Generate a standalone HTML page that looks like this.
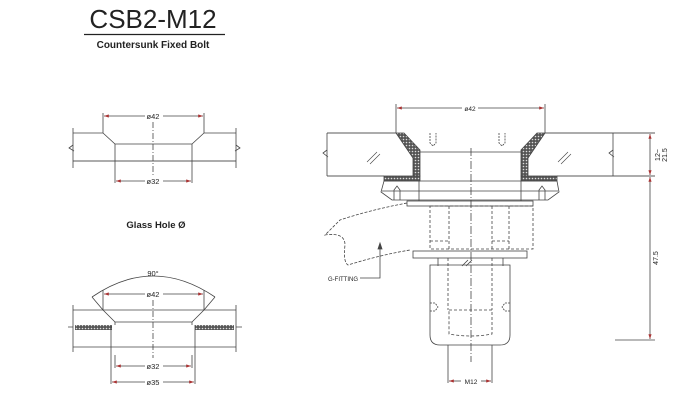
<!DOCTYPE html>
<html><head><meta charset="utf-8"><style>
html,body{margin:0;padding:0;background:#fff}
svg{display:block}
text{font-family:"Liberation Sans",sans-serif;fill:#222}
</style></head><body>
<svg width="700" height="400" viewBox="0 0 700 400" xmlns="http://www.w3.org/2000/svg">
<defs>
<pattern id="hat" width="3" height="3" patternUnits="userSpaceOnUse"><rect width="3" height="3" fill="#555"/><circle cx="1.5" cy="1.5" r="0.8" fill="#ddd"/></pattern>
<marker id="ar" markerWidth="6" markerHeight="4" refX="6" refY="2" orient="auto-start-reverse"><path d="M0,0 L6,2 L0,4z" fill="#a33"/></marker>
</defs>
<!-- Title -->
<text x="153" y="28" font-size="26" text-anchor="middle">CSB2-M12</text>
<line x1="84" y1="34.5" x2="225" y2="34.5" stroke="#222" stroke-width="1.2"/>
<text x="153" y="48" font-size="10" font-weight="bold" text-anchor="middle">Countersunk Fixed Bolt</text>

<g stroke="#444" stroke-width="0.8" fill="none">
<!-- Left top -->
<line x1="73" y1="133" x2="103" y2="133"/><line x1="204" y1="133" x2="236" y2="133"/>
<line x1="73" y1="161" x2="236" y2="161" stroke="#222"/>
<line x1="73" y1="128" x2="73" y2="168"/><line x1="236" y1="128" x2="236" y2="168"/>
<path d="M73,145 l-4,3 l5,3"/><path d="M236,145 l4,3 l-5,3"/>
<path d="M103,133 L115,144 L192,144 L204,133"/>
<line x1="115" y1="144" x2="115" y2="183"/><line x1="192" y1="144" x2="192" y2="183"/>
<line x1="103" y1="113" x2="103" y2="133"/><line x1="204" y1="113" x2="204" y2="133"/>
<line x1="153" y1="122" x2="153" y2="175" stroke-dasharray="6,2,1,2"/>
<line x1="104" y1="116" x2="145" y2="116" marker-start="url(#ar)"/><line x1="163" y1="116" x2="203" y2="116" marker-end="url(#ar)"/>
<line x1="116" y1="181" x2="145" y2="181" marker-start="url(#ar)"/><line x1="163" y1="181" x2="191" y2="181" marker-end="url(#ar)"/>

<!-- Left bottom -->
<path d="M92,297 Q153,255 215,297"/>
<line x1="73" y1="310" x2="236" y2="310"/>
<line x1="73" y1="347" x2="236" y2="347"/>
<line x1="73" y1="305" x2="73" y2="352"/><line x1="236" y1="305" x2="236" y2="352"/>
<rect x="75" y="325" width="37" height="5" fill="url(#hat)" stroke="none"/>
<rect x="195" y="325" width="39" height="5" fill="url(#hat)" stroke="none"/>
<path d="M68,327 l5,0 M236,327 l6,0"/>
<path d="M103,310 L115,322 L192,322 L204,310"/>
<path d="M92,297 L103,310 M215,297 L204,310"/>
<line x1="111" y1="325" x2="111" y2="384"/><line x1="195" y1="325" x2="195" y2="384"/>
<line x1="115" y1="322" x2="115" y2="325"/><line x1="192" y1="322" x2="192" y2="325"/>
<line x1="115" y1="355" x2="115" y2="368"/><line x1="192" y1="355" x2="192" y2="368"/>
<line x1="103" y1="290" x2="103" y2="310"/><line x1="204" y1="290" x2="204" y2="310"/>
<line x1="153" y1="300" x2="153" y2="358" stroke-dasharray="6,2,1,2"/>
<line x1="104" y1="294" x2="145" y2="294" marker-start="url(#ar)"/><line x1="163" y1="294" x2="203" y2="294" marker-end="url(#ar)"/>
<line x1="116" y1="366" x2="145" y2="366" marker-start="url(#ar)"/><line x1="163" y1="366" x2="191" y2="366" marker-end="url(#ar)"/>
<line x1="112" y1="382" x2="145" y2="382" marker-start="url(#ar)"/><line x1="163" y1="382" x2="194" y2="382" marker-end="url(#ar)"/>

<!-- Right drawing -->
<line x1="327" y1="133" x2="396" y2="133" stroke="#222"/><line x1="545" y1="133" x2="655" y2="133" stroke="#222"/>
<line x1="327" y1="176" x2="384" y2="176" stroke="#222"/><line x1="557" y1="176" x2="655" y2="176" stroke="#222"/>
<line x1="327" y1="133" x2="327" y2="176"/><line x1="613" y1="133" x2="613" y2="176"/>
<path d="M327,150 l-4,3 l5,4"/><path d="M613,150 l-4,3 l5,4"/>
<path d="M367,162 l10,-10 M370,164 l10,-10 M558,162 l10,-10 M561,164 l10,-10" stroke-width="0.6"/>
<path d="M396,133 L404,133 L420,150 L420,176 L413,176 L413,158 Z" fill="url(#hat)"/>
<path d="M545,133 L537,133 L521,150 L521,176 L528,176 L528,158 Z" fill="url(#hat)"/>
<rect x="384" y="176" width="36" height="5" fill="url(#hat)"/>
<rect x="521" y="176" width="36" height="5" fill="url(#hat)"/>
<line x1="420" y1="152" x2="521" y2="152"/>
<path d="M430,133 v10 l3,3 l3,-3 v-10 M499,133 v10 l3,3 l3,-3 v-10" stroke-dasharray="2,1"/>
<path d="M384,181 L557,181 L559,192 L548,200 L392,200 L381,192 Z"/>
<line x1="382" y1="191" x2="558" y2="191"/>
<line x1="419" y1="181" x2="419" y2="201"/><line x1="521" y1="181" x2="521" y2="201"/>
<path d="M394,200 v-10 l3,-4 l3,4 v10 M539,200 v-10 l3,-4 l3,4 v10"/>
<rect x="407" y="201" width="126" height="5"/>
<rect x="430" y="206" width="103" height="43" stroke-dasharray="3,2"/>
<path d="M449,206 V249 M492,206 V249 M509,206 V249 M430,241 H449 M492,241 H509" stroke-dasharray="3,2"/>
<rect x="413" y="251" width="114" height="7"/>
<line x1="438" y1="258" x2="438" y2="266"/><line x1="503" y1="258" x2="503" y2="266"/>
<path d="M430,265 H510 V335 Q510,345 500,345 H440 Q430,345 430,335 Z"/>
<path d="M448,258 V310 M492,258 V310" stroke-dasharray="3,2"/>
<path d="M449,310 H492 V334 Q471,338 449,334 Z" stroke-dasharray="3,2"/>
<path d="M430,303 h5 l3,4 l-3,4 h-5 M510,303 h-5 l-3,4 l3,4 h5" stroke-dasharray="2,1"/>
<path d="M462,266 l6,-6 M466,266 l6,-6"/>
<line x1="448" y1="345" x2="448" y2="383"/><line x1="492" y1="345" x2="492" y2="383"/>
<line x1="471" y1="148" x2="471" y2="362" stroke-dasharray="8,2,1,2"/>
<line x1="396" y1="104" x2="396" y2="133"/><line x1="545" y1="104" x2="545" y2="133"/>
<line x1="397" y1="108" x2="462" y2="108" marker-start="url(#ar)"/><line x1="478" y1="108" x2="544" y2="108" marker-end="url(#ar)"/>
<line x1="449" y1="381" x2="461" y2="381" marker-start="url(#ar)"/><line x1="481" y1="381" x2="491" y2="381" marker-end="url(#ar)"/>
<line x1="650" y1="134" x2="650" y2="175" marker-start="url(#ar)" marker-end="url(#ar)"/>
<line x1="650" y1="177" x2="650" y2="339" marker-start="url(#ar)" marker-end="url(#ar)"/>
<line x1="615" y1="340" x2="655" y2="340"/>
<path d="M407,203 Q370,210 340,220 L325,235 Q345,232 345,245 Q343,262 348,265 Q380,255 410,250" stroke-dasharray="3,1.5"/>
<polyline points="360,278 380,278 380,245"/>
<path d="M378,249 L380,243 L382,249z" fill="#444"/>
</g>
<g font-size="7.5">
<text x="153" y="119" text-anchor="middle">ø42</text>
<text x="153" y="184" text-anchor="middle">ø32</text>
<text x="153" y="276" text-anchor="middle">90°</text>
<text x="153" y="297" text-anchor="middle">ø42</text>
<text x="153" y="369" text-anchor="middle">ø32</text>
<text x="153" y="385" text-anchor="middle">ø35</text>
<text x="470" y="111" text-anchor="middle" font-size="6.5">ø42</text>
<text x="471" y="384" text-anchor="middle" font-size="6.5">M12</text>
<text x="328" y="281" font-size="6">G-FITTING</text>
<text transform="translate(660,155) rotate(-90)" font-size="7" text-anchor="middle">12~</text>
<text transform="translate(667,155) rotate(-90)" font-size="7" text-anchor="middle">21.5</text>
<text transform="translate(658,258) rotate(-90)" font-size="7" text-anchor="middle">47.5</text>
</g>
<text x="156" y="228" font-size="9.5" font-weight="bold" text-anchor="middle">Glass Hole Ø</text>
</svg>
</body></html>
